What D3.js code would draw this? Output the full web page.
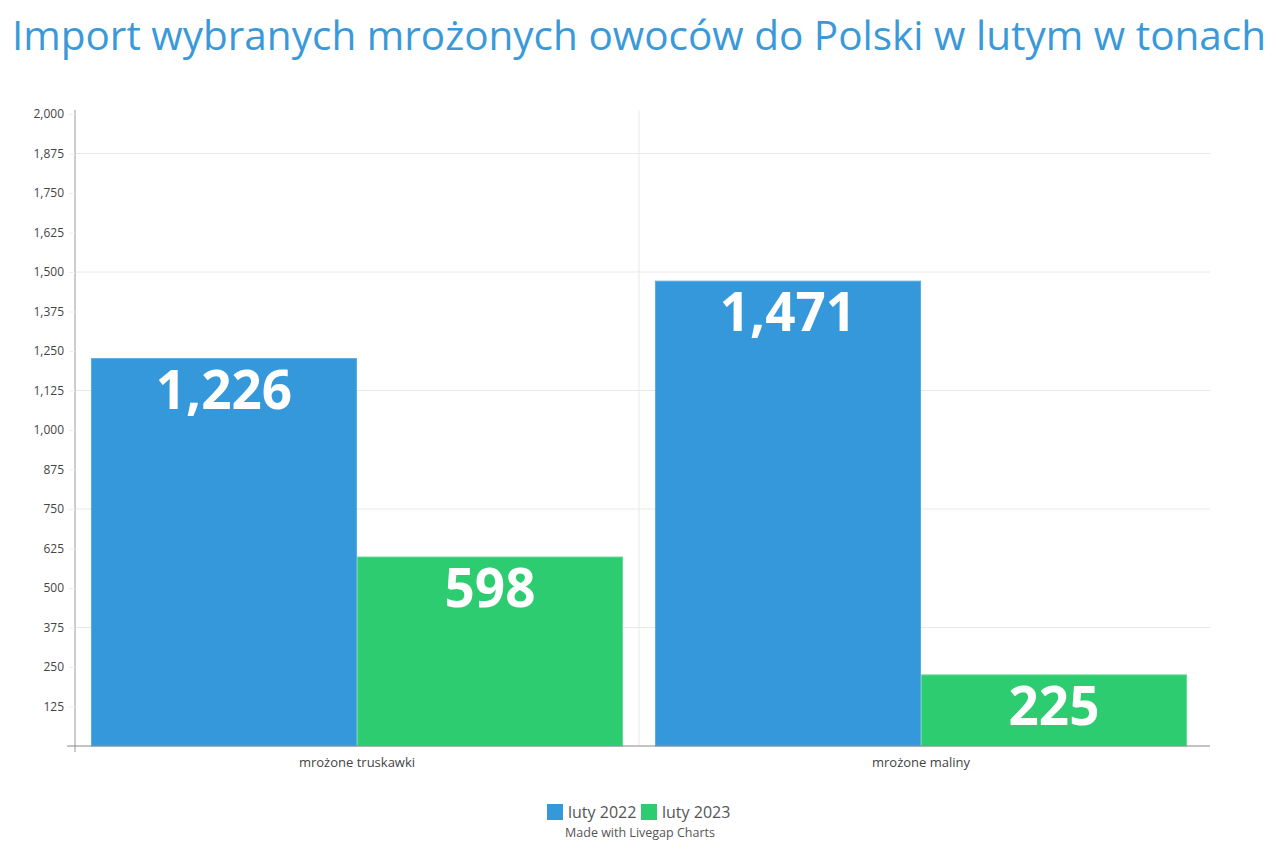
<!DOCTYPE html>
<html><head><meta charset="utf-8">
<script src="https://cdn.jsdelivr.net/npm/d3@7"></script>
<style>body{margin:0;background:#fff;font-family:"Open Sans",sans-serif;}</style>
</head><body><svg id="c" width="1280" height="853"></svg>
<script>
const categories = ["mrożone truskawki", "mrożone maliny"];
const seriesNames = ["luty 2022", "luty 2023"];
const luty2022 = [1226, 1471];
const luty2023 = [598, 225];
const yTicks = [125,250,375,500,625,750,875,1000,1125,1250,1375,1500,1625,1750,1875,2000];
const gridTicks = [375,750,1125,1500,1875];
const colors = ["#3498db", "#2ecc71"];
const borders = ["#5aaae3", "#61dc97"];

const svg = d3.select("#c");
const m = {l:75, r:1210, t:114, b:746};
const x = d3.scaleBand().domain(categories).range([m.l, 1203]);
const xs = d3.scaleBand().domain(seriesNames).range([0, x.bandwidth()]).paddingOuter(0.06);
const y = d3.scaleLinear().domain([0,2000]).range([m.b, m.t]);
const fmt = d3.format(",");

svg.append("text").attr("x",639).attr("y",50).attr("text-anchor","middle")
  .attr("font-size",40.5).attr("fill","#3a9ad9").text("Import wybranych mrożonych owoców do Polski w lutym w tonach");

// gridlines
svg.append("g").selectAll("line").data(gridTicks).join("line")
  .attr("x1",m.l).attr("x2",m.r).attr("y1",d=>y(d)).attr("y2",d=>y(d))
  .attr("stroke","#e8e8e8").attr("stroke-width",1);
svg.append("line").attr("x1",x(categories[1])).attr("x2",x(categories[1]))
  .attr("y1",m.t-4).attr("y2",m.b).attr("stroke","#e8e8e8");

// y axis
const ya = svg.append("g").attr("transform",`translate(${m.l},0)`)
  .call(d3.axisLeft(y).tickValues(yTicks).tickFormat(fmt).tickSize(6).tickPadding(5));
ya.select(".domain").attr("d",`M0,${m.t-4}V${m.b+6}`).attr("stroke","#999");
ya.selectAll(".tick line").attr("stroke","#eee");
ya.selectAll("text").attr("font-family","Open Sans").attr("font-size",12).attr("fill","#444");

// bars
const data = [luty2022, luty2023];
categories.forEach((c,ci)=>{
  seriesNames.forEach((s,si)=>{
    const v = data[si][ci];
    const bx = x(c)+xs(s);
    svg.append("rect").attr("x",bx+0.5).attr("y",y(v)).attr("width",xs.bandwidth()-1).attr("height",m.b-y(v))
      .attr("fill",colors[si]).attr("stroke",borders[si]).attr("stroke-width",1);
    svg.append("text").attr("x",bx+xs.bandwidth()/2).attr("y",y(v)+50).attr("text-anchor","middle")
      .attr("font-size",53).attr("font-weight",700).attr("fill","#fff").text(fmt(v));
  });
});

// x axis
const xa = svg.append("g").attr("transform",`translate(0,${m.b})`)
  .call(d3.axisBottom(x).tickSize(0).tickPadding(12));
xa.select(".domain").attr("d",`M${m.l-8},0H${m.r}`).attr("stroke","#888");
xa.selectAll("text").attr("font-family","Open Sans").attr("font-size",13).attr("fill","#444");

// legend
const lg = svg.append("g");
const lx = [547, 641];
seriesNames.forEach((s,i)=>{
  lg.append("rect").attr("x",lx[i]).attr("y",804).attr("width",16).attr("height",16).attr("fill",colors[i]);
  lg.append("text").attr("x",lx[i]+21).attr("y",818).attr("font-size",16).attr("fill","#555").text(s);
});
svg.append("text").attr("x",640).attr("y",837).attr("text-anchor","middle").attr("font-size",12.5)
  .attr("fill","#555").text("Made with Livegap Charts");
</script></body></html>
